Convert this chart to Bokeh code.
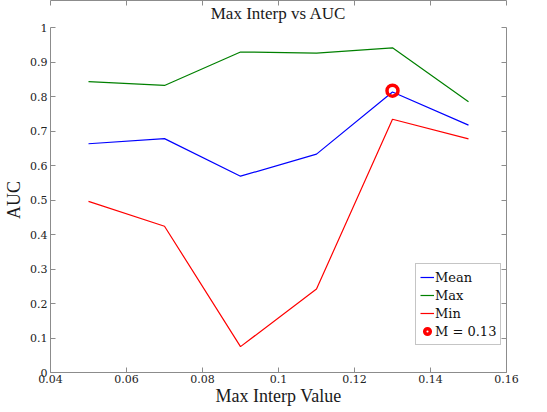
from bokeh.plotting import figure
from bokeh.models import Range1d, LinearAxis, FixedTicker, Legend, LegendItem, Title, CustomJSTickFormatter
from bokeh.embed import file_html
from bokeh.resources import INLINE

x_vals = [0.05, 0.07, 0.09, 0.11, 0.13, 0.15]
mean_vals = [0.663, 0.678, 0.569, 0.633, 0.813, 0.717]
max_vals = [0.843, 0.832, 0.929, 0.926, 0.941, 0.785]
min_vals = [0.496, 0.424, 0.075, 0.242, 0.734, 0.677]
best_x = [0.13]
best_y = [0.817]
x_ticks = [0.04, 0.06, 0.08, 0.1, 0.12, 0.14, 0.16]
y_ticks = [0, 0.1, 0.2, 0.3, 0.4, 0.5, 0.6, 0.7, 0.8, 0.9, 1]

SERIF = "DejaVu Serif"
TSERIF = "Liberation Serif"
AX = "#8c8c8c"

p = figure(frame_width=456, frame_height=345, output_backend="svg", toolbar_location=None,
           x_range=Range1d(0.04, 0.16), y_range=Range1d(0, 1),
           min_border_left=50, min_border_right=33, min_border_top=26, min_border_bottom=34)
p.title = None
p.add_layout(Title(text="Max Interp vs AUC", text_font=TSERIF, text_font_size="17px",
                   text_font_style="normal", align="center", text_color="#1a1a1a",
                   vertical_align="top", standoff=6, offset=0), "above")
p.xgrid.visible = False
p.ygrid.visible = False
p.outline_line_color = None
p.background_fill_color = "white"
p.border_fill_color = "white"

for ax, ticks in ((p.xaxis[0], x_ticks), (p.yaxis[0], y_ticks)):
    ax.ticker = FixedTicker(ticks=ticks)
    ax.major_tick_in = 5
    ax.major_tick_out = 0
    ax.minor_tick_line_color = None
    ax.axis_line_color = AX
    ax.major_tick_line_color = AX
    ax.major_label_text_font = SERIF
    ax.major_label_text_font_size = "11px"
    ax.major_label_text_color = "#222222"
    ax.axis_label_text_font = TSERIF
    ax.axis_label_text_font_size = "18px"
    ax.axis_label_text_font_style = "normal"
    ax.axis_label_text_color = "#1a1a1a"

p.xaxis[0].axis_label = "Max Interp Value"
p.yaxis[0].axis_label = "AUC"
p.xaxis[0].major_label_standoff = 2
p.yaxis[0].major_label_standoff = 3
p.xaxis[0].axis_label_standoff = 0
p.yaxis[0].axis_label_standoff = 3

for loc, ticks in (("above", x_ticks), ("right", y_ticks)):
    a = LinearAxis(ticker=FixedTicker(ticks=ticks),
                   formatter=CustomJSTickFormatter(code="return ''"))
    a.major_tick_in = 5
    a.major_tick_out = 0
    a.minor_tick_line_color = None
    a.axis_line_color = AX
    a.major_tick_line_color = AX
    a.major_label_standoff = 0
    p.add_layout(a, loc)

r_mean = p.line(x_vals, mean_vals, line_color="#0000ff", line_width=1.2)
r_max = p.line(x_vals, max_vals, line_color="#008000", line_width=1.2)
r_min = p.line(x_vals, min_vals, line_color="#ff0000", line_width=1.2)
r_best = p.scatter(best_x, best_y, marker="circle", size=11, fill_color=None,
                   line_color="#ff0000", line_width=3.5)

legend = Legend(items=[
    LegendItem(label="Mean", renderers=[r_mean]),
    LegendItem(label="Max", renderers=[r_max]),
    LegendItem(label="Min", renderers=[r_min]),
    LegendItem(label="M = 0.13", renderers=[r_best]),
], location=(365, 27))
legend.label_text_font = SERIF
legend.label_text_font_size = "13px"
legend.label_text_color = "#111111"
legend.glyph_width = 14
legend.glyph_height = 18
legend.label_height = 18
legend.label_standoff = 1
legend.spacing = 0
legend.padding = 4
legend.margin = 0
legend.border_line_color = AX
legend.background_fill_color = "white"
p.add_layout(legend, "center")

open("out.html", "w").write(file_html(p, INLINE))
